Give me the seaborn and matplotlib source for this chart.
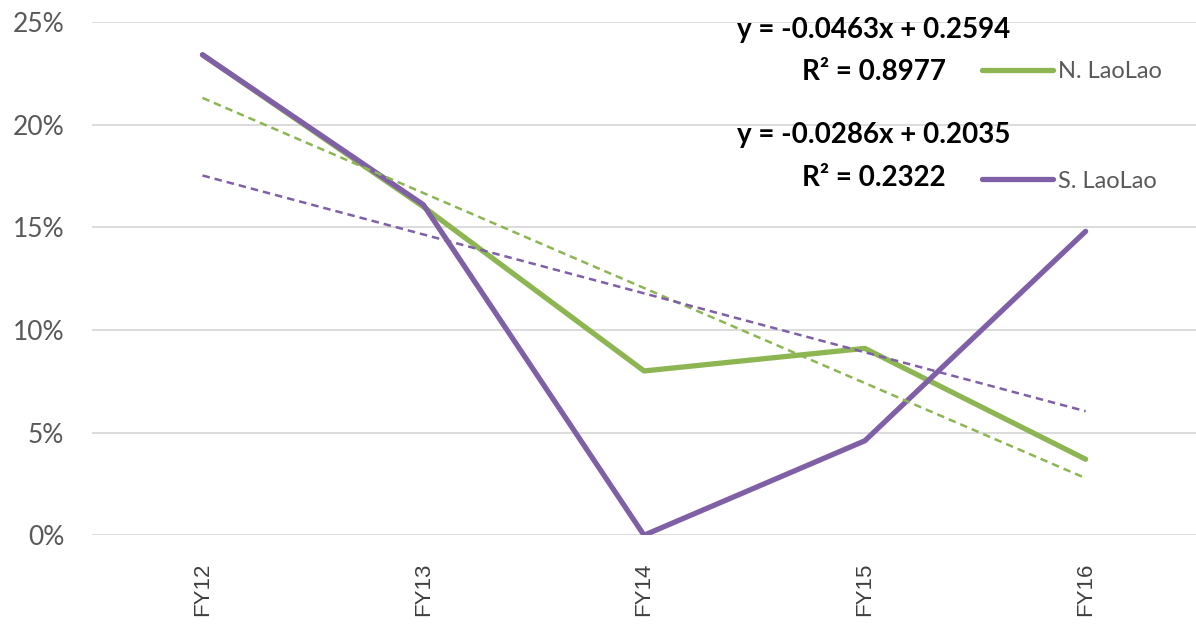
import pandas as pd
import matplotlib
matplotlib.use("Agg")
import matplotlib.pyplot as plt
import numpy as np
import seaborn as sns
from matplotlib.lines import Line2D

# data
years = ["FY12", "FY13", "FY14", "FY15", "FY16"]
north = [0.234, 0.160, 0.080, 0.091, 0.037]
south = [0.234, 0.161, 0.000, 0.046, 0.148]

green = "#8DB653"
purple = "#7F5FA6"

df = pd.DataFrame({
    "year": years * 2,
    "value": north + south,
    "region": ["N. LaoLao"] * 5 + ["S. LaoLao"] * 5,
})

sns.set_theme(style="white")
plt.rcParams["font.family"] = ["Lato", "DejaVu Sans"]

fig = plt.figure(figsize=(11.96, 6.26), dpi=100)
ax = fig.add_axes([0.077, 0.145, 0.923, 0.82])

sns.lineplot(data=df, x="year", y="value", hue="region",
             palette={"N. LaoLao": green, "S. LaoLao": purple},
             linewidth=3.8, sort=False, legend=False, ax=ax)

# linear trend lines (Excel style, x = 1..5)
xs = np.arange(1, len(years) + 1)
for vals, col in [(north, green), (south, purple)]:
    k, b = np.polyfit(xs, vals, 1)
    sns.lineplot(x=np.arange(len(years)), y=k * xs + b, color=col,
                 linestyle=(0, (3, 2)), linewidth=1.8, ax=ax)

ax.set_xlim(-0.5, 4.5)
ax.set_ylim(0, 0.25)
ax.set_yticks(np.arange(0, 0.26, 0.05))
ax.set_yticklabels([f"{int(round(v * 100))}%" for v in np.arange(0, 0.26, 0.05)],
                   fontsize=19, color="#595959")
ax.set_xticks(range(len(years)))
ax.set_xticklabels(years, rotation=90, fontsize=16, color="#404040",
                   family="Liberation Sans")
ax.tick_params(axis="y", length=0, pad=20)
ax.tick_params(axis="x", length=0, pad=20)
ax.set_xlabel("")
ax.set_ylabel("")
ax.grid(axis="y", color="#D9D9D9", linewidth=1.3)
ax.set_axisbelow(True)
for s in ax.spines.values():
    s.set_visible(False)

# equation labels
eq = dict(transform=ax.transData, fontsize=20, fontweight="bold",
          color="black", ha="center", va="center")
ax.text(3.04, 0.2460, "y = -0.0463x + 0.2594", **eq)
ax.text(3.04, 0.2256, "R² = 0.8977", **eq)
ax.text(3.04, 0.1950, "y = -0.0286x + 0.2035", **eq)
ax.text(3.04, 0.1740, "R² = 0.2322", **eq)

handles = [Line2D([], [], color=green, linewidth=3.8),
           Line2D([], [], color=purple, linewidth=3.8)]
ax.legend(handles, ["N. LaoLao", "S. LaoLao"], loc="upper left",
          bbox_to_anchor=(0.787, 0.965), frameon=False, fontsize=17,
          handlelength=3.0, handletextpad=0.2, labelspacing=3.75,
          labelcolor="#595959")

fig.savefig("out.png", dpi=100)
